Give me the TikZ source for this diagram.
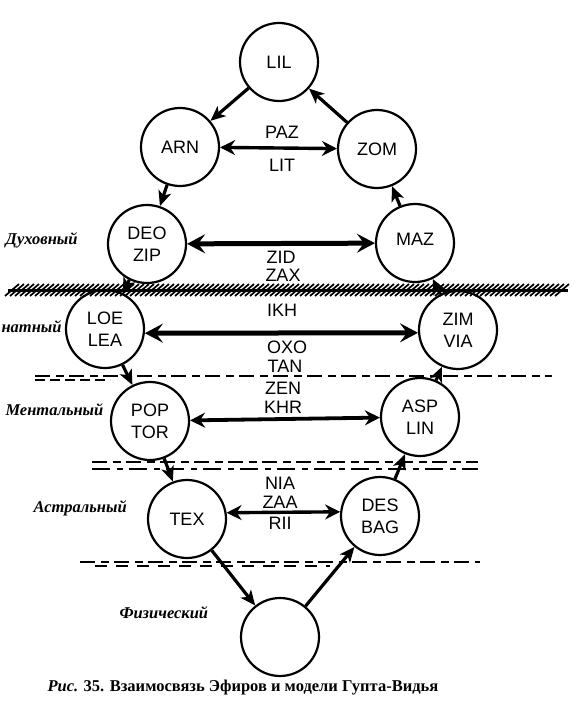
\documentclass[tikz,border=0pt]{standalone}
\usepackage{fontspec}
\setmainfont{Liberation Serif}
\setsansfont{Liberation Sans}
\usetikzlibrary{arrows.meta, positioning}

\tikzset{
  aethyr/.style={circle, draw, line width=2.2pt, minimum size=78pt, inner sep=0pt,
    align=center, font=\sffamily\fontsize{18}{22}\selectfont},
  flow/.style={line width=3.2pt, -{Stealth[length=15pt,width=13pt,inset=4pt]}},
  bond/.style={line width=3.4pt,
    {Stealth[length=15pt,width=15pt,inset=5pt]}-{Stealth[length=15pt,width=15pt,inset=5pt]}},
  bigbond/.style={line width=5pt,
    {Stealth[length=18pt,width=19pt,inset=7pt]}-{Stealth[length=18pt,width=19pt,inset=7pt]}},
  lbl/.style={font=\sffamily\fontsize{18}{18}\selectfont},
  plane/.style={anchor=west, font=\bfseries\itshape\fontsize{16.5}{16.5}\selectfont},
  border/.style={line width=2.6pt, dash pattern=on 15pt off 6pt on 8pt off 5pt}
}

\begin{document}
\begin{tikzpicture}[x=1pt,y=-1pt]
        \useasboundingbox (0,0) rectangle (576,719);

        % Эфиры
        \node[aethyr] (lil) at (279,62) {LIL};
        \node[aethyr] (arn) at (180,147) {ARN};
        \node[aethyr] (zom) at (377,149) {ZOM};
        \node[aethyr] (deo) at (147,244) {DEO\\ZIP};
        \node[aethyr] (maz) at (415,243) {\raisebox{8pt}{MAZ}};
        \node[aethyr] (loe) at (105,329) {LOE\\LEA};
        \node[aethyr] (zim) at (458,330) {ZIM\\VIA};
        \node[aethyr] (pop) at (150,421) {POP\\TOR};
        \node[aethyr] (asp) at (420,417) {ASP\\LIN};
        \node[aethyr] (tex) at (187,519) {TEX};
        \node[aethyr] (bag) at (380,516) {DES\\BAG};
        \node[aethyr] (phys) at (280,637) {};

        % Границы планов
        \draw[line width=3pt] (8,290) -- (568,290);
        \foreach \x in {12,17,...,564}
            \draw[line width=1.7pt] (\x-7,296) -- (\x+7,284);
        \draw[border] (35,376) -- (552,376);
        \draw[border, dash pattern=on 10pt off 5pt] (35,380) -- (110,380);
        \draw[border] (92,462) -- (478,462);
        \draw[border, dash pattern=on 18pt off 7pt on 6pt off 6pt] (92,469) -- (478,469);
        \draw[border] (80,562) -- (480,562);
        \draw[border, dash pattern=on 12pt off 9pt] (95,566) -- (330,566);

        % Связи
        \draw[flow] (lil) -- (arn);
        \draw[flow] (zom) -- (lil);
        \draw[bond] (arn) -- (zom);
        \draw[flow] (arn) -- (deo);
        \draw[flow] (maz) -- (zom);
        \draw[bigbond] (deo) -- (maz);
        \draw[flow] (deo) -- (loe);
        \draw[flow] (zim) -- (maz);
        \draw[bigbond] (loe.-6) -- (zim.184);
        \draw[flow] (loe) -- (pop);
        \draw[flow] (asp) -- (zim);
        \draw[bond, line width=3.8pt] (pop) -- (asp);
        \draw[flow] (pop) -- (tex);
        \draw[flow] (bag) -- (asp);
        \draw[bond] (tex.9) -- (bag.174);
        \draw[flow] (tex) -- (phys);
        \draw[flow] (phys) -- (bag);

        % Подписи связей
        \node[lbl] (paz) at (282,132) {PAZ};
        \node[lbl] (lit) at (282,165) {LIT};
        \node[lbl] (zid) at (281,257) {ZID};
        \node[lbl] (zax) at (283,275) {ZAX};
        \node[lbl] (ikh) at (282,310) {IKH};
        \node[lbl] (oxo) at (287,347) {OXO};
        \node[lbl] (tan) at (285,366) {TAN};
        \node[lbl] (zen) at (283,388) {ZEN};
        \node[lbl] (khr) at (283,407) {KHR};
        \node[lbl] (nia) at (280,483) {NIA};
        \node[lbl] (zaa) at (280,502) {ZAA};
        \node[lbl] (rii) at (280,523) {RII};

        % Планы
        \node[plane] (p1) at (2,240) {Духовный};
        \node[plane] (p2) at (-2,327) {натный};
        \node[plane] (p3) at (2,410) {Ментальный};
        \node[plane] (p4) at (30,508) {Астральный};
        \node[plane] (p5) at (116,613) {Физический};

        % Подпись рисунка
        \node[anchor=west, font=\bfseries\fontsize{16.5}{16.5}\selectfont] (cap) at (44,688)
            {\textit{Рис.} 35. Взаимосвязь Эфиров и модели Гупта-Видья};
\end{tikzpicture}
\end{document}
